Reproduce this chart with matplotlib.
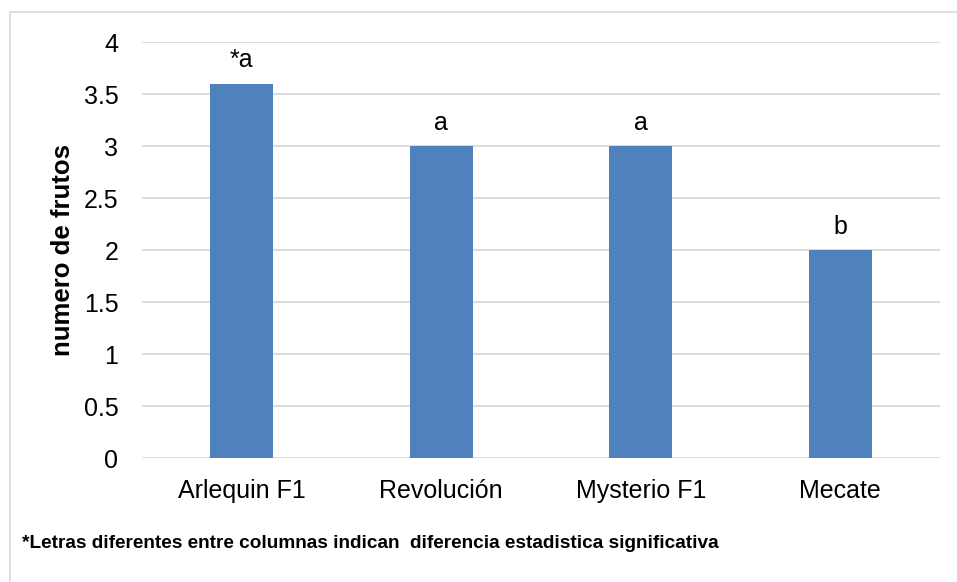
import matplotlib.pyplot as plt
from matplotlib.patches import Rectangle

plt.rcParams["font.family"] = ["Liberation Sans", "DejaVu Sans"]

# data
variedades = ["Arlequin F1", "Revolución", "Mysterio F1", "Mecate"]
num_frutos = [3.6, 3.0, 3.0, 2.0]
letras = ["*a", "a", "a", "b"]
y_ticks = [0, 0.5, 1, 1.5, 2, 2.5, 3, 3.5, 4]
y_tick_labels = ["0", "0.5", "1", "1.5", "2", "2.5", "3", "3.5", "4"]

fig = plt.figure(figsize=(9.57, 5.82), dpi=100)
ax = fig.add_axes([142 / 957, 1 - 458 / 582, 798 / 957, 416 / 582])

# chart border (only top/left visible in the original)
fig.patches.append(Rectangle((10 / 957, -0.1), 1.2, 1.1 - 12 / 582,
                             transform=fig.transFigure, fill=False,
                             edgecolor="#D9D9D9", linewidth=1.2))

x = range(len(variedades))
ax.bar(x, num_frutos, width=0.315, color="#4F81BD", zorder=3)

for xi, v, t in zip(x, num_frutos, letras):
    ax.text(xi, v + 0.11, t, ha="center", va="bottom", fontsize=18)

ax.set_xlim(-0.5, len(variedades) - 0.5)
ax.set_ylim(0, 4)
ax.set_yticks(y_ticks)
ax.set_yticklabels(y_tick_labels, fontsize=18)
ax.set_xticks(list(x))
ax.set_xticklabels(variedades, fontsize=18)
ax.tick_params(length=0)
ax.tick_params(axis="y", pad=17)
ax.tick_params(axis="x", pad=15)

ax.grid(axis="y", color="#D9D9D9", linewidth=1.3, zorder=0)
for s in ax.spines.values():
    s.set_visible(False)

ax.set_ylabel("numero de frutos", fontsize=18.5, fontweight="bold", labelpad=6)

fig.text(22 / 957, 1 - 543 / 582,
         "*Letras diferentes entre columnas indican  diferencia estadistica significativa",
         fontsize=13.7, fontweight="bold", va="center", ha="left")

fig.savefig("out.png", dpi=100)
